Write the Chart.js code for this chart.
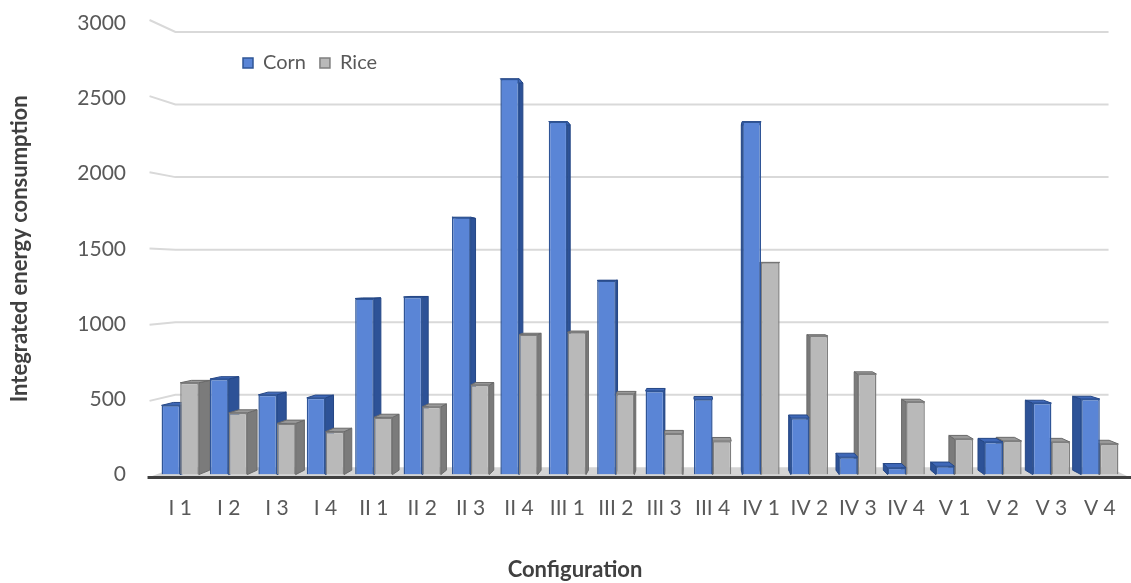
<!DOCTYPE html>
<html>
<head>
<meta charset="utf-8">
<script src="https://cdn.jsdelivr.net/npm/chart.js@4.4.1/dist/chart.umd.min.js"></script>
<style>
  html, body { margin: 0; padding: 0; background: #ffffff; }
  #wrap { width: 1131px; height: 583px; }
</style>
</head>
<body>
<div id="wrap"><canvas id="chart" width="1131" height="583"></canvas></div>
<script>
// Categories and series
const configurations = ['I 1', 'I 2', 'I 3', 'I 4', 'II 1', 'II 2', 'II 3', 'II 4', 'III 1', 'III 2',
  'III 3', 'III 4', 'IV 1', 'IV 2', 'IV 3', 'IV 4', 'V 1', 'V 2', 'V 3', 'V 4'];
const cornEnergy = [460, 635, 530, 510, 1170, 1180, 1710, 2630, 2345, 1290,
  555, 500, 2345, 375, 115, 45, 55, 216, 475, 502];
const riceEnergy = [610, 410, 340, 285, 380, 450, 595, 930, 945, 535,
  270, 222, 1410, 920, 668, 482, 236, 223, 216, 203];
const valueTicks = [0, 500, 1000, 1500, 2000, 2500, 3000];

const FONT = 'Lato, "Liberation Sans", sans-serif';

// Perspective helpers for the pseudo-3D look: points recede toward a vanishing point
const VP = { x: 695, y: 273 };
const BACK_WALL = 0.964;   // scale of the back wall relative to the bar plane
const FRONT_EDGE = 1.012;  // scale of the floor/side-wall front edge
const BAR_DEPTH = 0.022;   // how far each column recedes

function toward(x, y, s) {
  return { x: VP.x + (x - VP.x) * s, y: VP.y + (y - VP.y) * s };
}
function poly(ctx, pts, fill, stroke) {
  ctx.beginPath();
  ctx.moveTo(pts[0].x, pts[0].y);
  for (let i = 1; i < pts.length; i++) ctx.lineTo(pts[i].x, pts[i].y);
  ctx.closePath();
  ctx.fillStyle = fill;
  ctx.fill();
  if (stroke) { ctx.strokeStyle = stroke; ctx.lineWidth = 1; ctx.stroke(); }
}

const faceColors = [
  { side: '#2D5297', top: '#3F68B8', edge: '#254785' },
  { side: '#7B7B7B', top: '#999999', edge: '#6A6A6A' }
];

const depthPlugin = {
  id: 'depth3d',
  beforeDatasetsDraw(chart) {
    const ctx = chart.ctx;
    const ys = chart.scales.y;
    const a = chart.chartArea;
    ctx.save();

    // back wall gridlines with their slanted side-wall segment
    ctx.strokeStyle = '#D9D9D9';
    ctx.lineWidth = 2;
    for (const v of valueTicks) {
      if (v === 0) continue;
      const ym = ys.getPixelForValue(v);
      const f = toward(a.left, ym, FRONT_EDGE);
      const bl = toward(a.left, ym, BACK_WALL);
      const br = toward(a.right, ym, BACK_WALL);
      ctx.beginPath();
      ctx.moveTo(f.x, f.y);
      ctx.lineTo(bl.x, bl.y);
      ctx.lineTo(br.x, br.y);
      ctx.stroke();
    }

    // floor
    const y0 = ys.getPixelForValue(0);
    poly(ctx, [
      toward(a.left, y0, FRONT_EDGE), toward(a.right, y0, FRONT_EDGE),
      toward(a.right, y0, BACK_WALL), toward(a.left, y0, BACK_WALL)
    ], '#D4D4D4');

    // side and top faces of each column, farthest first
    const faces = [];
    chart.data.datasets.forEach((ds, di) => {
      chart.getDatasetMeta(di).data.forEach(el => faces.push({ el, di }));
    });
    faces.sort((p, q) => Math.abs(q.el.x - VP.x) - Math.abs(p.el.x - VP.x));
    const s = 1 - BAR_DEPTH;
    for (const { el, di } of faces) {
      const c = faceColors[di];
      const l = el.x - el.width / 2, r = el.x + el.width / 2;
      const t = el.y, b = el.base;
      if (r < VP.x) {
        poly(ctx, [{ x: r, y: t }, { x: r, y: b }, toward(r, b, s), toward(r, t, s)], c.side, c.edge);
      }
      if (l > VP.x) {
        poly(ctx, [{ x: l, y: t }, { x: l, y: b }, toward(l, b, s), toward(l, t, s)], c.side, c.edge);
      }
      poly(ctx, [{ x: l, y: t }, { x: r, y: t }, toward(r, t, s), toward(l, t, s)], c.top, c.edge);
    }
    ctx.restore();
  },
  afterDatasetsDraw(chart) {
    const ctx = chart.ctx;
    const a = chart.chartArea;
    const y0 = chart.scales.y.getPixelForValue(0);
    const fl = toward(a.left, y0, FRONT_EDGE);
    const fr = toward(a.right, y0, FRONT_EDGE);
    ctx.save();
    ctx.strokeStyle = '#404040';
    ctx.lineWidth = 3;
    ctx.beginPath();
    ctx.moveTo(fl.x - 2, fl.y + 0.5);
    ctx.lineTo(fr.x + 2, fr.y + 0.5);
    ctx.stroke();
    ctx.restore();
  }
};

// The legend floats inside the plot, so it takes no layout height;
// it is then moved to its spot, and the bottom title is centred on the page body.
const placementPlugin = {
  id: 'placement',
  beforeLayout(chart) {
    const lg = chart.legend;
    if (lg && !lg._floating) {
      const fit = lg.fit;
      lg.fit = function () { fit.call(this); this.height = 0; };
      lg._floating = true;
    }
  },
  afterLayout(chart) {
    const lg = chart.legend;
    if (lg) {
      lg.left = 229;
      lg.right = 1131;
      lg.top = 39;
      lg.bottom = 80;
    }
    const tb = chart.titleBlock;
    if (tb) {
      tb.left = 19;
      tb.right = 1131;
    }
  }
};

new Chart(document.getElementById('chart'), {
  type: 'bar',
  data: {
    labels: configurations,
    datasets: [
      {
        label: 'Corn',
        data: cornEnergy,
        backgroundColor: '#5A85D6',
        borderColor: '#2F5597',
        borderWidth: 1.5,
        categoryPercentage: 0.77,
        barPercentage: 1.0
      },
      {
        label: 'Rice',
        data: riceEnergy,
        backgroundColor: '#B9B9B9',
        borderColor: '#7F7F7F',
        borderWidth: 1.5,
        categoryPercentage: 0.77,
        barPercentage: 1.0
      }
    ]
  },
  options: {
    responsive: false,
    animation: false,
    devicePixelRatio: 1,
    layout: { padding: { top: 23, right: 7, bottom: 0, left: 0 } },
    plugins: {
      legend: {
        position: 'top',
        align: 'start',
        labels: {
          boxWidth: 10,
          boxHeight: 10,
          padding: 14,
          color: '#595959',
          font: { family: FONT, size: 20 }
        }
      },
      title: {
        display: true,
        position: 'bottom',
        text: 'Configuration',
        color: '#404040',
        font: { family: FONT, size: 22, weight: 'bold' },
        padding: { top: 12, bottom: 0 }
      },
      tooltip: { enabled: false }
    },
    scales: {
      x: {
        grid: { display: false },
        border: { display: false },
        ticks: {
          color: '#595959',
          font: { family: FONT, size: 21 },
          padding: 13,
          maxRotation: 0,
          autoSkip: false
        },
        afterFit(scale) {
          scale.height = 70;
          scale.paddingLeft = 0;
          scale.paddingRight = 0;
        }
      },
      y: {
        min: 0,
        max: 3000,
        grid: { display: false },
        border: { display: false },
        ticks: {
          stepSize: 500,
          color: '#595959',
          font: { family: FONT, size: 21 },
          padding: 22,
          format: { useGrouping: false }
        },
        title: {
          display: true,
          text: 'Integrated energy consumption',
          color: '#404040',
          font: { family: FONT, size: 22, weight: 'bold' },
          padding: { top: 7, bottom: 0 }
        },
        afterFit(scale) {
          scale.width = 156;
          scale.paddingTop = 0;
          scale.paddingBottom = 0;
        }
      }
    }
  },
  plugins: [depthPlugin, placementPlugin]
});
</script>
</body>
</html>
